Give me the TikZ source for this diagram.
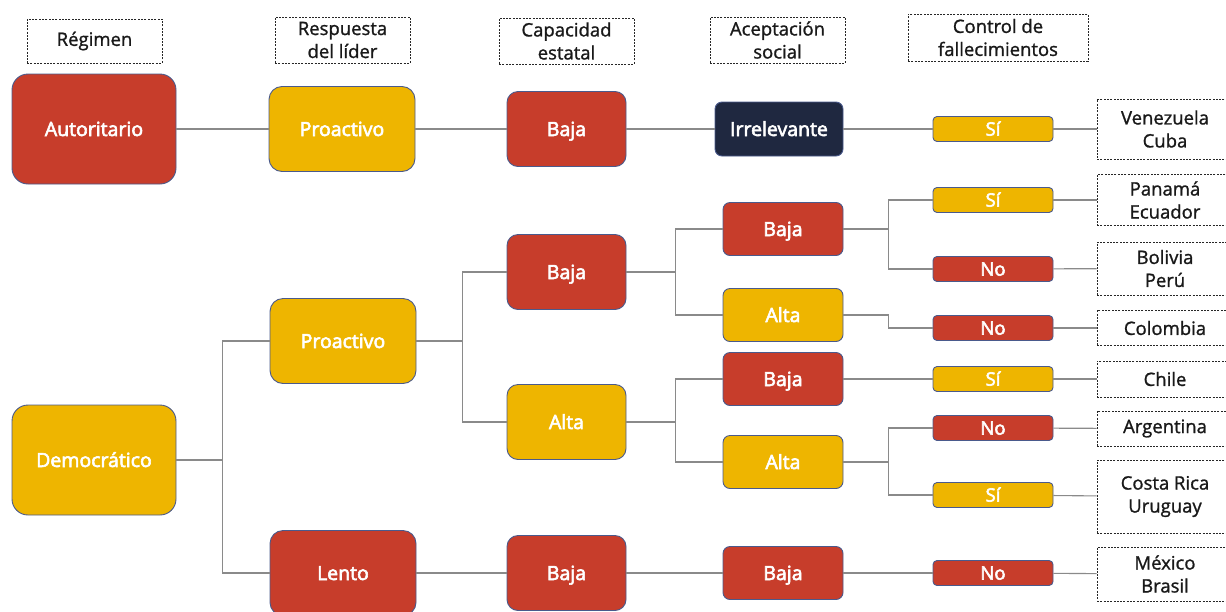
\documentclass[tikz,border=0pt]{standalone}
\usepackage{fontspec}
\setmainfont{Open Sans}
\newfontfamily\whitefont[FakeBold=3]{Open Sans}
\newfontfamily\blackfont[FakeBold=1.2]{Open Sans}
\definecolor{rojo}{HTML}{C73D2B}
\definecolor{amarillo}{HTML}{EEB500}
\definecolor{marino}{HTML}{1F2840}
\definecolor{borde}{HTML}{4A5A8C}
\definecolor{linea}{HTML}{8A8A8A}
\tikzset{
  cbox/.style={draw=borde, line width=0.9pt, text=white, align=center, inner sep=0pt,
    text height=14pt, text depth=0pt,
    font=\whitefont\fontsize{19.5}{22}\selectfont},
  lvA/.style={cbox, minimum width=164pt, minimum height=110pt, rounded corners=16pt},
  lvB/.style={cbox, minimum width=146pt, minimum height=85pt, rounded corners=13pt},
  lvC/.style={cbox, minimum width=119pt, minimum height=75pt, rounded corners=11pt},
  lvD/.style={cbox, minimum width=120pt, minimum height=53pt, rounded corners=7pt},
  lvE/.style={cbox, minimum width=120pt, minimum height=25pt, rounded corners=4pt,
    text height=13.2pt, font=\whitefont\fontsize{18.5}{20}\selectfont},
  red/.style={fill=rojo},
  yel/.style={fill=amarillo},
  hdr/.style={draw=black!85, dashed, dash pattern=on 2pt off 1.3pt, line width=0.8pt,
    align=center, inner sep=0pt, font=\blackfont\fontsize{18.5}{23}\selectfont, text=black!90},
  ctry/.style={hdr, minimum width=136pt},
  conn/.style={draw=linea, line width=1.1pt}
}
\begin{document}
\begin{tikzpicture}[x=1pt,y=-1pt]
\useasboundingbox (0,0) rectangle (1226,611);
\clip (0,0) rectangle (1226,611);
% headers
\node[hdr, minimum width=135pt, minimum height=44pt] (hR) at (94.5,41) {Régimen};
\node[hdr, minimum width=135pt, minimum height=46pt] (hL) at (342.5,40) {Respuesta\\del líder};
\node[hdr, minimum width=135pt, minimum height=46pt] (hC) at (566.5,41) {Capacidad\\estatal};
\node[hdr, minimum width=135pt, minimum height=46pt] (hA) at (777.5,40) {Aceptación\\social};
\node[hdr, minimum width=180pt, minimum height=47pt] (hF) at (998,37.5) {Control de\\fallecimientos};
% level 1
\node[lvA, red] (aut) at (94,129) {Autoritario};
\node[lvA, yel] (dem) at (94,460) {Democrático};
% level 2
\node[lvB, yel] (pro1) at (342,129) {Proactivo};
\node[lvB, yel] (pro2) at (343,341) {Proactivo};
\node[lvB, red] (len) at (343,573) {Lento};
% level 3
\node[lvC, red] (c1) at (566.5,129) {Baja};
\node[lvC, red] (c2) at (566.5,272) {Baja};
\node[lvC, yel] (c3) at (566.5,422) {Alta};
\node[lvC, red] (c4) at (566.5,573) {Baja};
% level 4
\node[lvD, fill=marino, minimum width=128pt, minimum height=54pt] (a1) at (779,129) {Irrelevante};
\node[lvD, red] (a2) at (783,229) {Baja};
\node[lvD, yel] (a3) at (783,315) {Alta};
\node[lvD, red] (a4) at (783,379) {Baja};
\node[lvD, yel] (a5) at (783,462) {Alta};
\node[lvD, red] (a6) at (783,573) {Baja};
% level 5
\node[lvE, yel] (f1) at (993,129) {Sí};
\node[lvE, yel] (f2) at (993,200) {Sí};
\node[lvE, red] (f3) at (993,269) {No};
\node[lvE, red] (f4) at (993,328) {No};
\node[lvE, yel] (f5) at (993,379) {Sí};
\node[lvE, red] (f6) at (993,428) {No};
\node[lvE, yel] (f7) at (993,495) {Sí};
\node[lvE, red] (f8) at (993,573) {No};
% countries
\node[ctry, minimum height=60pt] (p1) at (1165,129) {Venezuela\\Cuba};
\node[ctry, minimum height=51pt] (p2) at (1165,200) {Panamá\\Ecuador};
\node[ctry, minimum height=53pt] (p3) at (1165,268.5) {Bolivia\\Perú};
\node[ctry, minimum height=35pt] (p4) at (1165,328) {Colombia};
\node[ctry, minimum height=36pt] (p5) at (1165,379) {Chile};
\node[ctry, minimum height=35pt] (p6) at (1165,428.5) {Argentina};
\node[ctry, minimum height=73pt] (p7) at (1165,496.5) {Costa Rica\\Uruguay};
\node[ctry, minimum height=54pt] (p8) at (1165,574) {México\\Brasil};
% connectors
\draw[conn] (aut) -- (pro1);
\draw[conn] (pro1) -- (c1);
\draw[conn] (c1) -- (a1);
\draw[conn] (a1) -- (f1);
\draw[conn] (dem.east) -- ++(46,0) |- (pro2.west);
\draw[conn] (dem.east) -- ++(46,0) |- (len.west);
\draw[conn] (pro2.east) -- ++(46,0) |- (c2.west);
\draw[conn] (pro2.east) -- ++(46,0) |- (c3.west);
\draw[conn] (len) -- (c4);
\draw[conn] (c2.east) -- ++(49,0) |- (a2.west);
\draw[conn] (c2.east) -- ++(49,0) |- (a3.west);
\draw[conn] (c3.east) -- ++(49,0) |- (a4.west);
\draw[conn] (c3.east) -- ++(49,0) |- (a5.west);
\draw[conn] (c4) -- (a6);
\draw[conn] (a2.east) -- ++(45,0) |- (f2.west);
\draw[conn] (a2.east) -- ++(45,0) |- (f3.west);
\draw[conn] (a3.east) -- ++(45,0) |- (f4.west);
\draw[conn] (a4) -- (f5);
\draw[conn] (a5.east) -- ++(45,0) |- (f6.west);
\draw[conn] (a5.east) -- ++(45,0) |- (f7.west);
\draw[conn] (a6) -- (f8);
\draw[conn] (f1) -- (p1);
\draw[conn] (f2) -- (p2);
\draw[conn] (f3) -- (p3);
\draw[conn] (f4) -- (p4);
\draw[conn] (f5) -- (p5);
\draw[conn] (f6) -- (p6);
\draw[conn] (f7) -- (p7);
\draw[conn] (f8) -- (p8);
\end{tikzpicture}
\end{document}
